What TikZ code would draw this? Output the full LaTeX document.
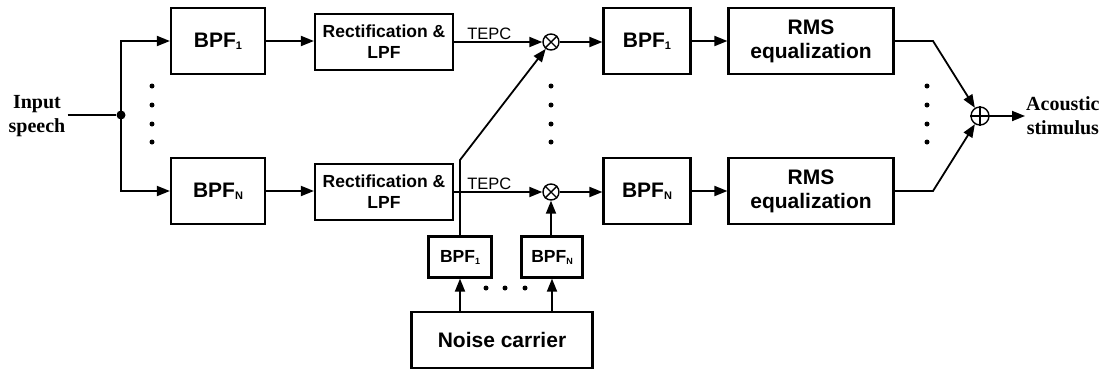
\documentclass[tikz,border=0pt]{standalone}
\usepackage{fontspec}
\usetikzlibrary{arrows.meta}
\newfontfamily\blockfont{Liberation Sans}
\newfontfamily\termfont{Liberation Serif}
\newcommand\idx[2]{\raisebox{-2pt}{\fontsize{#1}{#1}\selectfont\bfseries #2}}
\tikzset{
  wire/.style={line width=1.8pt},
  flow/.style={wire,-{Triangle[length=13pt,width=10pt]}},
  blk/.style={draw,line width=2.2pt,inner sep=0pt,align=center,font=\blockfont\bfseries\fontsize{21}{24}\selectfont},
  bigblk/.style={blk,minimum width=94pt,minimum height=66pt},
  rectblk/.style={blk,minimum width=138pt,minimum height=56pt,font=\blockfont\bfseries\fontsize{17.5}{21}\selectfont},
  rmsblk/.style={blk,minimum width=165pt,minimum height=66pt},
  smallblk/.style={blk,minimum width=61pt,minimum height=41pt,font=\blockfont\bfseries\fontsize{17.5}{20}\selectfont},
  mixer/.style={draw,circle,line width=1.4pt,minimum size=16pt,inner sep=0pt},
  term/.style={align=center,inner sep=2pt,font=\termfont\bfseries\fontsize{20}{24}\selectfont},
  dot/.style={fill,circle,inner sep=0pt,minimum size=5pt},
  tag/.style={font=\blockfont\fontsize{16.5}{18}\selectfont,inner sep=1pt,anchor=south}
}
\begin{document}
\begin{tikzpicture}[x=1pt,y=-1pt]
\useasboundingbox (0,0) rectangle (1116,373);

% terminals
\node[term] (in) at (37,116) {Input\\speech};
\node[term,anchor=west,inner sep=1pt] (out) at (1025,116) {Acoustic\\stimulus};
\node[dot,minimum size=9pt] (j) at (121,115) {};

% analysis filters and envelope extraction
\node[bigblk] (bpfA1) at (218,41) {BPF\idx{11}{1}};
\node[bigblk] (bpfAN) at (218,191) {BPF\idx{11}{N}};
\node[rectblk] (env1) at (384,42) {Rectification \&\\LPF};
\node[rectblk] (envN) at (384,192) {Rectification \&\\LPF};

% modulators: circle with a diagonal cross
\foreach \n/\y in {m1/42,mN/192}{
  \node[mixer] (\n) at (551,\y) {};
  \draw[line width=1.4pt] (\n.north east) -- (\n.south west) (\n.north west) -- (\n.south east);
}

% synthesis filters and level equalization
\node[bigblk,minimum width=87pt] (bpfS1) at (647,41) {BPF\idx{11}{1}};
\node[bigblk,minimum width=87pt] (bpfSN) at (647,191) {BPF\idx{11}{N}};
\node[rmsblk] (rms1) at (811,41) {RMS\\equalization};
\node[rmsblk] (rmsN) at (811,191) {RMS\\equalization};

% summation
\node[draw,circle,line width=1.4pt,minimum size=18pt,inner sep=0pt] (sum) at (980,116) {};
\draw[line width=1.4pt] (sum.north) -- (sum.south) (sum.west) -- (sum.east);

% noise carrier branch
\node[smallblk,minimum width=63pt] (nb1) at (460,257) {BPF\idx{9}{1}};
\node[smallblk] (nbN) at (552,257) {BPF\idx{9}{N}};
\node[blk,minimum width=181pt,minimum height=56pt] (noise) at (502,340) {Noise carrier};

\coordinate (k1) at (933,41);
\coordinate (kN) at (933,191);
\coordinate (bend) at (460,160);

% connectors
\draw[wire] (in.east |- j) -- (j);
\draw[flow] (j.center) |- (bpfA1.west);
\draw[flow] (j.center) |- (bpfAN.west);
\draw[flow] (bpfA1.east) -- (env1.west |- bpfA1.east);
\draw[flow] (bpfAN.east) -- (envN.west |- bpfAN.east);
\draw[flow] (env1.east) -- node[tag,pos=0.4] {TEPC} (m1.west);
\draw[flow] (envN.east) -- node[tag,pos=0.4] {TEPC} (mN.west);
\draw[flow] (m1.east) -- (bpfS1.west |- m1.east);
\draw[flow] (mN.east) -- (bpfSN.west |- mN.east);
\draw[flow] (bpfS1.east) -- (rms1.west);
\draw[flow] (bpfSN.east) -- (rmsN.west);
\draw[flow] (rms1.east) -- (k1) -- (sum);
\draw[flow] (rmsN.east) -- (kN) -- (sum);
\draw[flow] (sum.east) -- (out.west);
\draw[flow] (nb1.north -| bend) -- (bend) -- (m1);
\draw[flow] (nbN.north -| mN) -- (mN.south);
\draw[flow] (noise.north -| bend) -- (nb1.south -| bend);
\draw[flow] (noise.north -| nbN) -- (nbN.south);

% ellipsis marks
\foreach \x in {152,551,927}
  \foreach \y in {86,105,124,142}
    \node[dot] at (\x,\y) {};
\foreach \x in {486,505,525}
  \node[dot] at (\x,288) {};
\end{tikzpicture}
\end{document}
